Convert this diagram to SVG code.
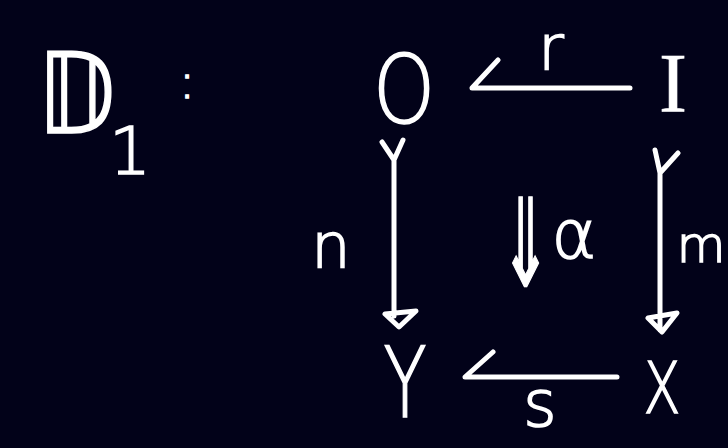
<svg xmlns="http://www.w3.org/2000/svg" width="728" height="448" viewBox="0 0 728 448">
<style>
.t{fill:#ffffff;stroke:#ffffff;stroke-width:1.6;font-family:"DejaVu Sans","Liberation Sans",sans-serif;font-weight:200;text-anchor:middle}
.s{font-family:"Liberation Serif","DejaVu Serif",serif;font-weight:normal;stroke-width:0.6}
.e{fill:none;stroke:#ffffff;stroke-width:5;stroke-linecap:round;stroke-linejoin:round}
</style>
<rect width="728" height="448" fill="#020219"/>
<g id="title">
<text class="t" x="76" y="133" font-size="112" transform="translate(76,0) scale(0.85,1) translate(-76,0)">𝔻</text>
<text class="t" x="130" y="174" font-size="66">1</text>
<text class="t" x="187" y="98" font-size="48">:</text>
</g>
<g id="node-O"><text class="t" x="404" y="123" font-size="94" transform="translate(404,0) scale(0.84,1) translate(-404,0)">O</text></g>
<g id="node-I"><text class="t s" x="673" y="112" font-size="84">I</text></g>
<g id="node-Y"><text class="t" x="405" y="417" font-size="98" transform="translate(405,0) scale(0.72,1) translate(-405,0)">Y</text></g>
<g id="node-X"><text class="t" x="662" y="413" font-size="72" transform="translate(662,0) scale(0.75,1) translate(-662,0)">X</text></g>
<g id="connectors">
<path class="e" d="M630,88 H472 L498,60"/>
<path class="e" d="M617,377 H465 L493,352"/>
<path class="e" d="M382,142 L394,160 L403,140 M394,160 V316 M385,314 L416,311 L399,327 Z"/>
<path class="e" d="M655,150 L660,173 L678,153 M660,173 V330 M648,318 L677,313 L662,332 Z"/>
</g>
<g id="labels">
<text class="t" x="701" y="262" font-size="50">m</text>
<text class="t" x="551" y="70" font-size="62">r</text>
<text class="t" x="331" y="268" font-size="62">n</text>
<text class="t" x="540" y="426" font-size="64">s</text>
<text class="t" x="525" y="286" font-size="122" transform="translate(525,0) scale(0.5,1) translate(-525,0)">⇓</text>
<text class="t" x="574" y="258" font-size="68">α</text>
</g>
</svg>
